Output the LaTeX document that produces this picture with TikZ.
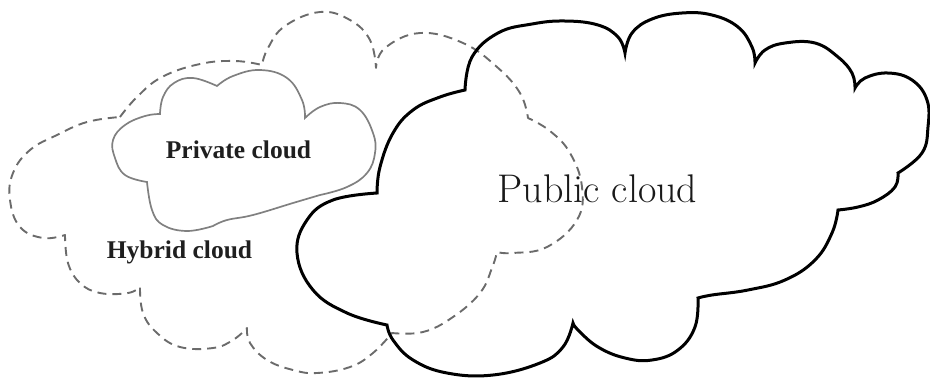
\documentclass[tikz,border=0pt]{standalone}
\usepackage{fontspec}
\newfontfamily\timesf{Liberation Serif}
\begin{document}
\begin{tikzpicture}[x=1pt,y=-1pt,
  hyb/.style={draw=black!58,line width=1.9pt,dash pattern=on 9pt off 6pt,line join=round},
  priv/.style={draw=black!50,line width=1.7pt,line join=miter},
  pub/.style={draw=black,line width=3pt,line join=miter},
  smalllab/.style={font=\timesf\bfseries\fontsize{25.5}{28}\selectfont,anchor=base,inner sep=0pt,text=black!88},
  biglab/.style={font=\fontsize{40}{44}\selectfont,anchor=base,inner sep=0pt,text=black!90}]
\useasboundingbox (0,0) rectangle (930,378);
% Hybrid cloud (dashed)
\draw[hyb]
  plot[smooth,tension=0.7] coordinates {(120,117) (137,97) (162,77) (200,64) (235,61) (262,65)}
  -- plot[smooth,tension=0.7] coordinates {(262,65) (268,48) (285,26) (320,12) (350,20) (370,40) (376,68)}
  -- plot[smooth,tension=0.7] coordinates {(376,68) (385,48) (420,33) (463,43) (497,67) (520,93) (528,118)}
  -- plot[smooth,tension=0.7] coordinates {(528,118) (550,131) (570,153) (582,187) (577,220) (547,247) (513,253) (497,252)}
  -- plot[smooth,tension=0.7] coordinates {(497,252) (492,268) (480,293) (453,317) (423,332) (392,333)}
  -- plot[smooth,tension=0.7] coordinates {(392,333) (373,353) (350,367) (317,373) (293,370) (267,360) (250,343) (247,328)}
  -- plot[smooth,tension=0.7] coordinates {(247,328) (233,340) (213,348) (180,347) (157,333) (143,313) (140,287)}
  -- plot[smooth,tension=0.7] coordinates {(140,287) (128,293) (100,293) (80,283) (68,263) (65,235)}
  -- plot[smooth,tension=0.7] coordinates {(65,235) (43,238) (20,227) (10,200) (13,173) (30,150) (57,135) (87,122) (120,117)}
  -- cycle;
% Private cloud
\draw[priv]
  plot[smooth,tension=0.7] coordinates {(160,114) (163,97) (174,83) (193,78) (217,86)}
  -- plot[smooth,tension=0.7] coordinates {(217,86) (233,76) (260,70) (287,78) (302,100) (305,118)}
  -- plot[smooth,tension=0.7] coordinates {(305,118) (320,107) (340,103) (360,110) (373,133) (375,153) (367,173) (347,187) (320,195)}
  -- plot[smooth,tension=0.7] coordinates {(320,195) (293,203) (253,215) (227,220) (213,226)}
  -- plot[smooth,tension=0.7] coordinates {(213,226) (187,231) (163,225) (152,210) (147,182)}
  -- plot[smooth,tension=0.7] coordinates {(147,182) (125,175) (115,158) (113,140) (125,125) (145,116) (160,114)}
  -- cycle;
% Public cloud
\draw[pub]
  plot[smooth,tension=0.7] coordinates {(377,193) (380,167) (393,133) (413,110) (440,97) (465,90)}
  -- plot[smooth,tension=0.7] coordinates {(465,90) (472,57) (498,33) (532,24) (565,21) (598,25) (618,37) (625,53)}
  -- plot[smooth,tension=0.7] coordinates {(625,53) (632,33) (652,19) (682,13) (712,15) (738,27) (752,47) (755,63)}
  -- plot[smooth,tension=0.7] coordinates {(755,63) (765,50) (785,43) (815,43) (838,57) (852,73) (855,88)}
  -- plot[smooth,tension=0.7] coordinates {(855,88) (865,78) (888,73) (912,80) (927,100) (928,127) (922,153) (898,173)}
  -- plot[smooth,tension=0.7] coordinates {(898,173) (895,187) (878,200) (858,207) (838,210)}
  -- plot[smooth,tension=0.7] coordinates {(838,210) (832,233) (815,260) (785,280) (748,290) (712,295) (698,298)}
  -- plot[smooth,tension=0.7] coordinates {(698,298) (695,327) (678,350) (652,360) (625,358) (598,347) (578,330) (573,323)}
  -- plot[smooth,tension=0.7] coordinates {(573,323) (563,347) (540,363) (493,375) (447,373) (413,360) (393,340) (387,325)}
  -- plot[smooth,tension=0.7] coordinates {(387,325) (347,313) (313,290) (297,253) (307,220) (333,200) (377,193)}
  -- cycle;
\node[smalllab] (priv) at (238.5,158) {Private cloud};
\node[smalllab] (hyb) at (179.5,258) {Hybrid cloud};
\node[biglab] (pub) at (597.5,202) {Public cloud};
\end{tikzpicture}
\end{document}
